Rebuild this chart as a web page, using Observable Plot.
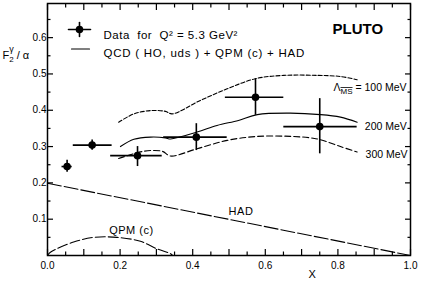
<!DOCTYPE html>
<html><head><meta charset="utf-8">
<script src="https://cdn.jsdelivr.net/npm/d3@7"></script>
<script src="https://cdn.jsdelivr.net/npm/@observablehq/plot@0.6"></script>
<style>
body{margin:0;background:#fff}
svg{font-family:"Liberation Sans",Arial,sans-serif}
</style>
</head><body><div id="chart"></div>
<script>
// ---- measured data points (x, F2/alpha) with error bars ----
const dataX   = [0.054, 0.123, 0.248, 0.410, 0.573, 0.750];
const dataY   = [0.245, 0.304, 0.275, 0.326, 0.436, 0.355];
const dataXLo = [0.040, 0.071, 0.174, 0.320, 0.490, 0.651];
const dataXHi = [0.068, 0.178, 0.316, 0.495, 0.651, 0.853];
const dataYLo = [0.229, 0.290, 0.245, 0.289, 0.386, 0.280];
const dataYHi = [0.262, 0.318, 0.300, 0.363, 0.487, 0.432];

// ---- QCD (HO, uds) + QPM(c) + HAD curves ----
const qcd100X = [0.196,0.238,0.284,0.325,0.343,0.421,0.495,0.573,0.651,0.743,0.807,0.853];
const qcd100Y = [0.367,0.390,0.399,0.397,0.390,0.427,0.459,0.487,0.496,0.496,0.493,0.484];
const qcd200X = [0.201,0.238,0.284,0.325,0.339,0.412,0.467,0.526,0.578,0.669,0.752,0.807,0.853];
const qcd200Y = [0.300,0.320,0.326,0.324,0.321,0.340,0.358,0.372,0.388,0.392,0.388,0.381,0.367];
const qcd300X = [0.196,0.265,0.316,0.339,0.412,0.495,0.578,0.669,0.743,0.807,0.853];
const qcd300Y = [0.267,0.287,0.287,0.274,0.294,0.317,0.328,0.328,0.321,0.300,0.285];
const hadX = [0.0, 1.0];
const hadY = [0.199, 0.0];
const qpmX = [0.0, 0.008, 0.072, 0.128, 0.192, 0.256, 0.302, 0.339, 0.345];
const qpmY = [0.0, 0.009, 0.037, 0.050, 0.050, 0.039, 0.018, 0.005, 0.0];

// ---- tick labels ----
const xTickValues = [0, 0.2, 0.4, 0.6, 0.8, 1.0];
const xTickLabels = ["0.0", "0.2", "0.4", "0.6", "0.8", "1.0"];
const yTickValues = [0.1, 0.2, 0.3, 0.4, 0.5, 0.6];
const yTickLabels = ["0.1", "0.2", "0.3", "0.4", "0.5", "0.6"];

// ---- annotations ----
const noteText = ["PLUTO", "HAD", "QPM (c)", "ΛMS = 100 MeV", "200 MeV", "300 MeV"];
const noteX    = [0.855, 0.533, 0.231, 0.989, 0.990, 0.992];
const noteY    = [0.622, 0.122, 0.069, 0.462, 0.355, 0.278];
const legendText = ["Data  for  Q² = 5.3 GeV²", "QCD ( HO, uds ) + QPM (c) + HAD"];

const pts = dataX.map((x, i) => ({x, y: dataY[i], x1: dataXLo[i], x2: dataXHi[i], y1: dataYLo[i], y2: dataYHi[i]}));
const toXY = (xs, ys) => xs.map((x, i) => ({x, y: ys[i]}));
const notes = noteText.map((t, i) => ({t, x: noteX[i], y: noteY[i]}));

const xMajor = d3.range(0, 1.0001, 0.1);
const xMinor = d3.range(0.05, 1, 0.1);
const yMajor = d3.range(0.1, 0.69, 0.1);
const yMinor = d3.range(0.05, 0.69, 0.1);

const lineShape = {draw(ctx, l) { ctx.moveTo(0, 0); ctx.lineTo(0, -l); }};
const tickMarks = [];
for (const a of ["bottom", "top"]) {
  tickMarks.push(Plot.axisX(xMajor, {anchor: a, tickSize: -6, fill: "none", label: null, strokeWidth: 1.2}));
  tickMarks.push(Plot.axisX(xMinor, {anchor: a, tickSize: -3.5, fill: "none", label: null, strokeWidth: 1.2}));
}
for (const a of ["left", "right"]) {
  tickMarks.push(Plot.axisY(yMajor, {anchor: a, tickSize: -6, fill: "none", label: null, strokeWidth: 1.2}));
  tickMarks.push(Plot.axisY(yMinor, {anchor: a, tickSize: -3.5, fill: "none", label: null, strokeWidth: 1.2}));
}

const chart = Plot.plot({
  width: 427, height: 282,
  marginLeft: 47, marginRight: 17, marginTop: 3, marginBottom: 27,
  style: {fontSize: "10px", background: "#fff", color: "#000"},
  x: {domain: [0, 1]},
  y: {domain: [0, 0.694]},
  marks: [
    ...tickMarks,
    Plot.axisX(xTickValues, {anchor: "bottom", tickSize: 0, tickPadding: 6, label: null, tickFormat: (d, i) => xTickLabels[i], fontSize: 10}),
    Plot.axisY(yTickValues, {anchor: "left", tickSize: 0, tickPadding: 1, label: null, tickFormat: (d, i) => yTickLabels[i], fontSize: 10}),
    Plot.frame({strokeWidth: 1.5}),
    // curves
    Plot.line(toXY(qcd100X, qcd100Y), {x: "x", y: "y", curve: "catmull-rom", strokeWidth: 1.1, strokeDasharray: "4,2"}),
    Plot.line(toXY(qcd200X, qcd200Y), {x: "x", y: "y", curve: "catmull-rom", strokeWidth: 1.1}),
    Plot.line(toXY(qcd300X, qcd300Y), {x: "x", y: "y", curve: "catmull-rom", strokeWidth: 1.1, strokeDasharray: "6,3"}),
    Plot.line(toXY(hadX, hadY), {x: "x", y: "y", strokeWidth: 1.1, strokeDasharray: "14,3"}),
    Plot.line(toXY(qpmX, qpmY), {x: "x", y: "y", curve: "catmull-rom", strokeWidth: 1.1, strokeDasharray: "10,3"}),
    // data with error bars
    Plot.ruleY(pts, {y: "y", x1: "x1", x2: "x2", strokeWidth: 1.6}),
    Plot.ruleX(pts, {x: "x", y1: "y1", y2: "y2", strokeWidth: 1.6}),
    Plot.dot(pts, {x: "x", y: "y", r: 3.8, fill: "#000", stroke: "none"}),
    // annotations
    Plot.text(notes.slice(0, 1), {x: "x", y: "y", text: "t", fontSize: 15, fontWeight: "bold"}),
    Plot.text(notes.slice(1, 3), {x: "x", y: "y", text: "t", fontSize: 11}),
    Plot.text(notes.slice(3), {x: "x", y: "y", text: "t", fontSize: 10.5, textAnchor: "end"}),
    // legend
    Plot.vector([0], {frameAnchor: "top-left", dx: 32, dy: 26, length: 22, rotate: 90, anchor: "middle", shape: lineShape, strokeWidth: 1.6}),
    Plot.vector([0], {frameAnchor: "top-left", dx: 32, dy: 26, length: 14, rotate: 0, anchor: "middle", shape: lineShape, strokeWidth: 1.6}),
    Plot.dot([0], {frameAnchor: "top-left", dx: 32, dy: 26, r: 3.8, fill: "#000", stroke: "none"}),
    Plot.vector([0], {frameAnchor: "top-left", dx: 33, dy: 45.5, length: 18, rotate: 90, anchor: "middle", shape: lineShape, strokeWidth: 1.1}),
    Plot.text([legendText[0]], {frameAnchor: "top-left", dx: 56, dy: 27, textAnchor: "start", fontSize: 11.5}),
    Plot.text([legendText[1]], {frameAnchor: "top-left", dx: 56, dy: 45.5, textAnchor: "start", fontSize: 11.5}),
    // axis labels
    Plot.text(["X"], {frameAnchor: "bottom-left", dx: 261, dy: 22, fontSize: 11}),
    Plot.text(["F2γ/α"], {frameAnchor: "top-left", dx: -45, dy: 48, textAnchor: "start", fontSize: 11})
  ]
});

// sub/superscripts and letter spacing as real text
const NS = "http://www.w3.org/2000/svg";
function rebuild(t, parts) {
  t.textContent = "";
  for (const p of parts) {
    const s = document.createElementNS(NS, "tspan");
    s.textContent = p.text;
    if (p.dx != null) s.setAttribute("dx", p.dx);
    if (p.dy != null) s.setAttribute("dy", p.dy);
    if (p.size) s.setAttribute("font-size", p.size);
    if (p.style) s.setAttribute("style", p.style);
    t.appendChild(s);
  }
}
const spacing = {};
spacing[legendText[0]] = "0.5px";
spacing[legendText[1]] = "0.75px";
spacing["HAD"] = "0.5px";
spacing["QPM (c)"] = "0.5px";
chart.querySelectorAll("text").forEach(t => {
  const s = t.textContent;
  if (spacing[s]) t.setAttribute("letter-spacing", spacing[s]);
  if (s === "ΛMS = 100 MeV") {
    rebuild(t, [{text: "Λ"}, {text: "MS", dy: 3, size: 8, style: "text-decoration:overline"}, {text: " = 100 MeV", dy: -3}]);
  } else if (s === "F2γ/α") {
    rebuild(t, [{text: "F"}, {text: "2", dy: 3, size: 8}, {text: "γ", dx: -4.5, dy: -10, size: 9}, {text: " / α", dy: 7}]);
  }
});
document.getElementById("chart").appendChild(chart);
</script>
</body></html>
